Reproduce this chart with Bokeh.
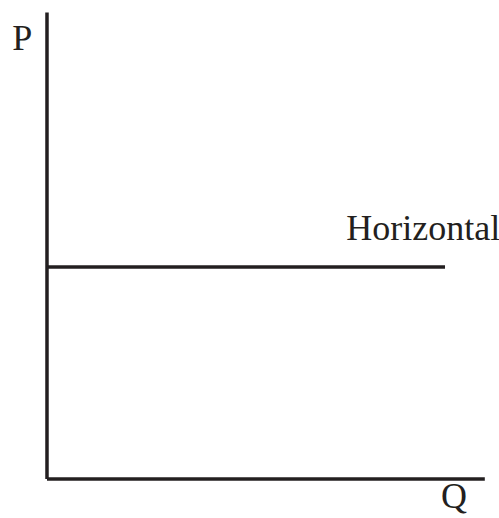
from bokeh.plotting import figure
from bokeh.models import Range1d
from bokeh.core.properties import value
from bokeh.embed import file_html
from bokeh.resources import INLINE

# Axes of the diagram (quantity Q, price P)
q_axis_end = 11.0
p_axis_end = 11.0

# Perfectly elastic (horizontal) curve
curve_q = [0.0, 10.0]
curve_p = [5.0, 5.0]

# Text labels: (text, q, p)
label_text = ["P", "Horizontal", "Q"]
label_q = [-0.87, 7.52, 9.90]
label_p = [10.41, 5.93, -0.40]

INK = "#231f20"

p = figure(
    width=499, height=518,
    x_range=Range1d(-1.168, 11.369),
    y_range=Range1d(-0.932, 11.285),
    output_backend="svg", toolbar_location=None,
    min_border=0, outline_line_color=None,
)
p.axis.visible = False
p.grid.visible = False

# Axis lines
p.segment(x0=[0, 0], y0=[0, 0], x1=[0, q_axis_end], y1=[p_axis_end, 0],
          line_color=INK, line_width=3.5, line_cap="butt")

# Horizontal curve
p.line(curve_q, curve_p, line_color=INK, line_width=3.5)

p.text(x=label_q, y=label_p, text=label_text,
       text_font=value("Liberation Serif"), text_font_size="36px",
       text_color=INK, text_baseline="alphabetic", text_align="left")

open("out.html", "w").write(file_html(p, INLINE))
